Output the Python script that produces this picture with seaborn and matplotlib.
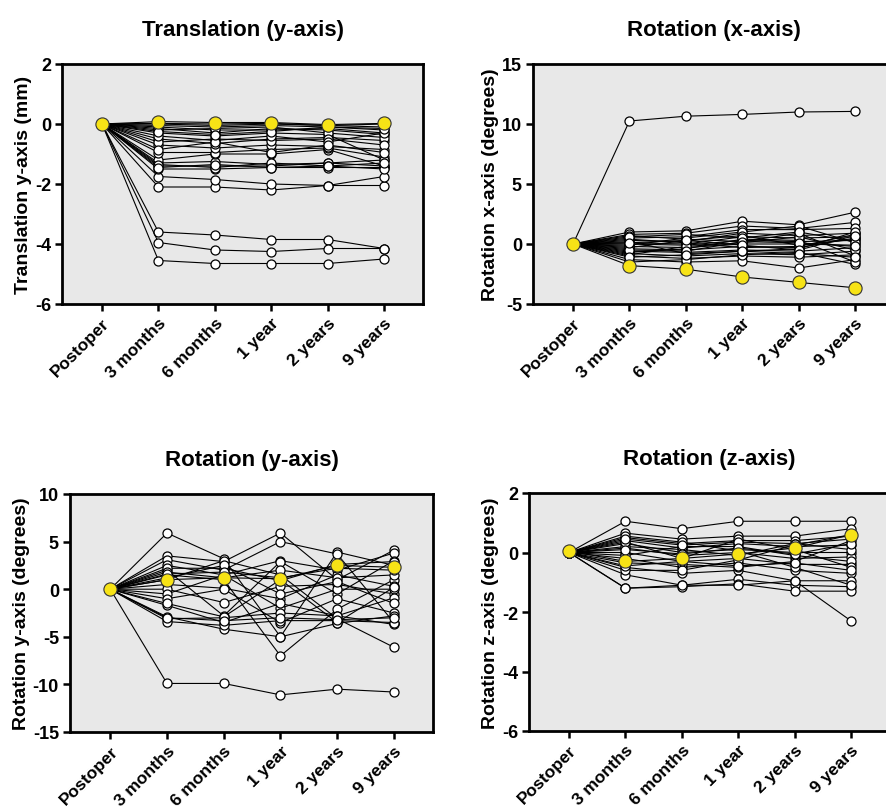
"""
plot.py

Four-panel spaghetti plot of implant migration per follow-up visit.
White dots = individual patients, yellow = highlighted patient.
"""

import pandas as pd
import matplotlib.pyplot as plt
import seaborn as sns

sns.set_style("ticks")
plt.rcParams['font.family'] = ['Liberation Sans', 'DejaVu Sans']
plt.rcParams['text.color'] = 'black'
plt.rcParams['axes.labelcolor'] = 'black'
plt.rcParams['xtick.color'] = 'black'
plt.rcParams['ytick.color'] = 'black'

# ============================================================================
# 1. Data (values read per visit; Postoper is always 0)
# ============================================================================
visits = ['Postoper', '3 months', '6 months', '1 year', '2 years', '9 years']

trans_y = [
    [0, -3.6, -3.7, -3.85, -3.85, -4.15],
    [0, -3.95, -4.2, -4.25, -4.15, -4.15],
    [0, -4.55, -4.65, -4.65, -4.65, -4.5],
    [0, -2.1, -2.1, -2.2, -2.05, -2.05],
    [0, -1.75, -1.85, -2.0, -2.05, -1.75],
    [0, -1.5, -1.5, -1.45, -1.45, -1.45],
    [0, -1.4, -1.4, -1.4, -1.3, -1.4],
    [0, -1.3, -1.25, -1.35, -1.3, -1.2],
    [0, -1.2, -1.0, -1.0, -0.85, -1.4],
    [0, -0.95, -0.95, -0.85, -0.8, -1.1],
    [0, -0.7, -0.8, -0.7, -0.75, -0.85],
    [0, -0.5, -0.65, -0.5, -0.45, -0.55],
    [0, -0.3, -0.4, -0.3, -0.35, -1.2],
    [0, -0.15, -0.3, -0.15, -0.2, -0.35],
    [0, -0.05, -0.1, -0.05, -0.1, -0.2],
    [0, 0.0, -0.05, 0.0, -0.05, -0.1],
    [0, -0.1, -0.2, -0.2, -0.15, -0.3],
    [0, -0.2, -0.15, -0.1, -0.3, -0.45],
    [0, -0.6, -0.5, -0.55, -0.5, -0.7],
    [0, -1.35, -1.45, -1.3, -1.4, -1.5],
    [0, 0.02, 0.0, 0.02, -0.05, 0.0],
    [0, -0.4, -0.55, -0.4, -0.6, -0.3],
    [0, -0.85, -0.6, -0.95, -0.7, -0.95],
    [0, -1.45, -1.35, -1.45, -1.4, -1.3],
    [0, -0.25, -0.35, -0.25, -0.1, -0.15],
]
trans_y_hl = [0, 0.08, 0.05, 0.05, -0.02, 0.02]

rot_x = [
    [0, 10.25, 10.65, 10.8, 11.0, 11.05],
    [0, 1.0, 1.1, 1.9, 1.6, 2.65],
    [0, 0.8, 0.9, 1.5, 1.3, 1.8],
    [0, 0.5, 0.6, 1.2, 1.2, 1.3],
    [0, 0.3, 0.2, 0.9, 0.7, 0.9],
    [0, 0.1, 0.0, 0.6, 0.5, 0.6],
    [0, 0.0, -0.1, 0.3, 0.2, 0.3],
    [0, -0.2, -0.3, 0.0, 0.0, -0.1],
    [0, -0.4, -0.5, -0.2, -0.3, 0.5],
    [0, -0.6, -0.7, -0.5, -0.6, -0.3],
    [0, -0.8, -1.0, -0.8, -0.9, -0.6],
    [0, -1.0, -1.2, -1.0, -1.1, -0.9],
    [0, -1.3, -1.5, -1.4, -2.0, -1.3],
    [0, -1.5, -1.3, -0.9, -0.7, -1.7],
    [0, 0.7, 0.4, 0.2, 0.9, -1.0],
    [0, -0.1, 0.5, 1.0, 1.5, 0.1],
    [0, 0.4, 0.1, -0.3, -0.2, 0.8],
    [0, -0.7, -0.4, 0.4, 0.3, -1.5],
    [0, 0.2, -0.8, -0.6, -0.4, 1.0],
    [0, -0.3, 0.3, 0.7, -0.1, 0.4],
    [0, -0.9, -0.2, 0.1, 0.6, -0.5],
    [0, 0.6, 0.8, 0.5, 1.0, 0.2],
    [0, -0.5, -0.6, 0.2, 0.1, -0.2],
    [0, 0.1, 0.3, -0.1, -0.5, 0.7],
    [0, -1.1, -0.9, -0.6, -0.8, -1.1],
]
rot_x_hl = [0, -1.8, -2.1, -2.75, -3.2, -3.65]

rot_y = [
    [0, -9.9, -9.9, -11.1, -10.5, -10.8],
    [0, 5.9, 3.2, -5.0, 3.9, 2.5],
    [0, 3.5, 2.9, 5.9, 1.0, 4.1],
    [0, 3.1, 2.0, 5.0, 3.7, -3.5],
    [0, 2.5, 1.5, 3.0, 2.0, 3.8],
    [0, 2.0, -2.8, 2.9, -0.5, 3.0],
    [0, 1.5, 1.0, -7.0, -2.1, 1.0],
    [0, 1.0, 3.0, 1.5, -3.1, -6.1],
    [0, 0.5, 0.1, -1.0, 1.5, 0.3],
    [0, 0.0, -1.4, 0.3, 0.5, -0.5],
    [0, -0.5, 1.5, -2.0, 0.0, 0.0],
    [0, -1.0, 0.0, -3.5, -1.0, -2.5],
    [0, -1.7, -3.5, -1.5, -2.8, -0.9],
    [0, -2.9, -4.2, -5.0, -3.6, -2.8],
    [0, -3.1, -3.0, -2.5, -2.8, -3.7],
    [0, -3.4, -3.8, -3.3, -3.3, -3.5],
    [0, 2.2, 2.2, 0.9, 2.6, 2.9],
    [0, 1.8, 1.2, 2.0, 1.2, 1.5],
    [0, 1.2, 2.5, -0.5, 0.8, -1.5],
    [0, -1.5, -2.9, 1.0, -3.5, 0.2],
    [0, 1.6, 1.8, 1.2, 2.2, 2.0],
    [0, -3.0, -3.3, -3.0, -3.2, -3.0],
]
rot_y_hl = [0, 1.0, 1.2, 1.1, 2.5, 2.3]

rot_z = [
    [0, 1.05, 0.8, 1.05, 1.05, 1.05],
    [0, 0.65, 0.45, 0.55, 0.55, 0.8],
    [0, 0.5, 0.3, 0.4, 0.4, 0.55],
    [0, 0.4, 0.15, 0.3, 0.2, 0.25],
    [0, 0.3, 0.0, 0.1, 0.0, 0.0],
    [0, 0.15, -0.1, 0.0, -0.2, -0.15],
    [0, 0.0, -0.3, -0.2, -0.4, -0.4],
    [0, -0.2, -0.5, -0.35, -0.6, -0.7],
    [0, -0.5, -0.7, -0.6, -0.95, -0.95],
    [0, -0.75, -1.1, -0.9, -1.1, -1.15],
    [0, -1.2, -1.15, -1.05, -1.3, -1.3],
    [0, -1.2, -1.1, -1.1, -0.95, -2.3],
    [0, 0.2, 0.1, -0.1, 0.3, 0.1],
    [0, -0.1, 0.2, 0.2, -0.1, -0.3],
    [0, 0.35, -0.2, 0.45, 0.1, -0.5],
    [0, -0.35, -0.4, -0.5, -0.3, 0.4],
    [0, 0.55, 0.35, 0.05, -0.5, -1.1],
    [0, -0.6, -0.6, -0.25, 0.25, 0.6],
    [0, 0.45, 0.25, 0.35, 0.3, 0.45],
    [0, -0.45, -0.3, -0.45, -0.35, -0.6],
    [0, 0.1, -0.05, 0.15, -0.05, 0.3],
]
rot_z_hl = [0.05, -0.3, -0.2, -0.05, 0.15, 0.6]

# ============================================================================
# 2. Panel settings
# ============================================================================
panels = [
    # title, ylabel, subjects, highlight, ylim, yticks, axes box in pixels (l, t, r, b)
    ('Translation (y-axis)', 'Translation y-axis (mm)', trans_y, trans_y_hl,
     (-6, 2), [-6, -4, -2, 0, 2], (62, 65, 423, 305)),
    ('Rotation (x-axis)', 'Rotation x-axis (degrees)', rot_x, rot_x_hl,
     (-5, 15), [-5, 0, 5, 10, 15], (533, 65, 894, 305)),
    ('Rotation (y-axis)', 'Rotation y-axis (degrees)', rot_y, rot_y_hl,
     (-15, 10), [-15, -10, -5, 0, 5, 10], (70, 495, 433, 733)),
    ('Rotation (z-axis)', 'Rotation z-axis (degrees)', rot_z, rot_z_hl,
     (-6, 2), [-6, -4, -2, 0, 2], (529, 494, 890, 732)),
]

W, H = 886, 812
fig = plt.figure(figsize=(W / 100, H / 100), dpi=100)

for title, ylabel, subjects, hl, ylim, yticks, box in panels:
    l, t, r, b = box
    ax = fig.add_axes([l / W, (H - b) / H, (r - l) / W, (b - t) / H])
    ax.set_facecolor('#e8e8e8')

    long_df = pd.DataFrame(
        [(sid, i, v) for sid, row in enumerate(subjects) for i, v in enumerate(row)],
        columns=['subject', 'visit', 'value'])
    hl_df = pd.DataFrame({'visit': range(len(visits)), 'value': hl})

    sns.lineplot(data=long_df, x='visit', y='value', units='subject', estimator=None,
                 color='black', linewidth=0.8, marker='o', markersize=6.5,
                 markerfacecolor='white', markeredgecolor='black', markeredgewidth=0.9,
                 ax=ax, zorder=2)
    sns.lineplot(data=hl_df, x='visit', y='value', color='black', linewidth=0.8,
                 marker='o', markersize=9.5, markerfacecolor='#f7e316',
                 markeredgecolor='#333333', markeredgewidth=0.8, ax=ax, zorder=3)

    ax.set_xlim(-0.71, 5.69)
    ax.set_ylim(*ylim)
    ax.set_yticks(yticks)
    ax.set_yticklabels([str(v) for v in yticks], fontsize=13, fontweight='bold')
    ax.set_xticks(range(len(visits)))
    ax.set_xticklabels(visits, rotation=45, ha='right', rotation_mode='anchor',
                       fontsize=12.5, fontweight='bold')
    ax.tick_params(axis='both', direction='out', length=5, width=1.8, color='black',
                   pad=3)
    for sp in ax.spines.values():
        sp.set_linewidth(2)
        sp.set_color('black')
    ax.set_xlabel('')
    ax.set_ylabel(ylabel, fontsize=14, fontweight='bold', labelpad=2)
    ax.set_title(title, fontsize=16, fontweight='bold', pad=21)

fig.savefig('out.png', dpi=100)
plt.close(fig)
